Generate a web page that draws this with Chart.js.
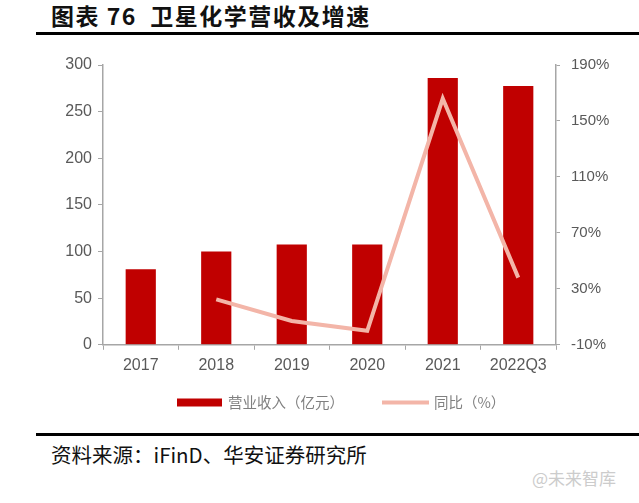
<!DOCTYPE html>
<html><head><meta charset="utf-8">
<script src="https://cdn.jsdelivr.net/npm/chart.js@4/dist/chart.umd.min.js"></script>
<style>
html,body{margin:0;padding:0;background:#fff;width:639px;height:503px;overflow:hidden;position:relative;font-family:"Noto Sans CJK SC","Noto Sans",sans-serif;}
#title{position:absolute;left:51px;top:0px;font-size:23px;line-height:31px;font-weight:bold;color:#111;letter-spacing:1.5px;white-space:nowrap;}
.rule{position:absolute;left:36px;right:0;height:3px;background:#000;}
#src{position:absolute;left:51px;top:440px;font-size:20.5px;line-height:28px;color:#111;white-space:nowrap;}
#wm{position:absolute;left:532px;top:466px;font-size:17px;line-height:24px;color:#cccccc;white-space:nowrap;}
#wrap{position:absolute;left:0;top:45px;width:639px;height:390px;}
</style></head>
<body>
<div id="title">图表 76&nbsp;&nbsp;卫星化学营收及增速</div>
<div class="rule" style="top:32px"></div>
<div id="wrap"><canvas id="c"></canvas></div>
<div class="rule" style="top:433px"></div>
<div id="src">资料来源：iFinD、华安证券研究所</div>
<div id="wm">@未来智库</div>
<script>
const categories = ["2017","2018","2019","2020","2021","2022Q3"];
const revenue = [81, 100, 107.5, 107.5, 286, 277.5];
const growth = [null, 22.5, 7, 0, 166, 38];
const leftTicks = [0,50,100,150,200,250,300];
const rightTicks = [-10,30,70,110,150,190];

const axisColor = '#a6a6a6';
const tickColor = '#595959';
const barColor = '#c00000';
const lineColor = '#f3b5a8';

const customLegend = {
  id:'customLegend',
  afterDraw(chart){
    const ctx = chart.ctx;
    const ds = chart.data.datasets;
    ctx.save();
    ctx.font = '14.5px "Noto Sans CJK SC"';
    ctx.textBaseline = 'middle';
    const cy = 357.5;
    let x = 177;
    ctx.fillStyle = ds[0].backgroundColor;
    ctx.fillRect(x, cy-4, 45, 8);
    ctx.fillStyle = '#808080';
    ctx.fillText(ds[0].label, x+51, cy);
    x = x + 51 + ctx.measureText(ds[0].label).width + 38;
    ctx.strokeStyle = ds[1].borderColor;
    ctx.lineWidth = 4;
    ctx.beginPath(); ctx.moveTo(x, cy); ctx.lineTo(x+47, cy); ctx.stroke();
    ctx.fillText(ds[1].label, x+52, cy);
    ctx.restore();
  }
};

new Chart(document.getElementById('c'), {
  type: 'bar',
  data: {
    labels: categories,
    datasets: [
      {type:'bar', label:'营业收入（亿元）', data: revenue, backgroundColor:barColor, borderWidth:0,
       yAxisID:'y', order:1, categoryPercentage:1, barPercentage:0.4},
      {type:'line', label:'同比（%）', data: growth, borderColor:lineColor, backgroundColor:lineColor,
       borderWidth:4, pointRadius:0, tension:0, yAxisID:'y1', order:0}
    ]
  },
  plugins:[customLegend],
  options: {
    responsive:true, maintainAspectRatio:false, animation:false,
    layout:{padding:{top:18,left:0,right:0,bottom:54}},
    plugins:{ tooltip:{enabled:false}, legend:{display:false} },
    scales:{
      x:{
        grid:{display:true, drawOnChartArea:false, drawTicks:true, tickLength:5, color:axisColor, offset:true},
        border:{display:true, color:axisColor, width:1.5},
        ticks:{color:tickColor, font:{size:16, family:'Liberation Sans'}, padding:6}
      },
      y:{
        position:'left', min:0, max:300,
        afterBuildTicks:(s)=>{s.ticks = leftTicks.map(v=>({value:v}));},
        afterFit:(s)=>{s.width=103;},
        grid:{drawOnChartArea:false, tickLength:5, color:axisColor},
        border:{display:true, color:axisColor, width:1.5},
        ticks:{color:tickColor, font:{size:16, family:'Liberation Sans'}, padding:6}
      },
      y1:{
        position:'right', min:-10, max:190,
        afterBuildTicks:(s)=>{s.ticks = rightTicks.map(v=>({value:v}));},
        afterFit:(s)=>{s.width=83;},
        grid:{drawOnChartArea:false, tickLength:4, color:axisColor},
        border:{display:true, color:axisColor, width:1.5},
        ticks:{color:tickColor, font:{size:15, family:'Liberation Sans'}, padding:11, callback:(v)=>v+'%'}
      }
    }
  }
});
</script>
</body></html>
